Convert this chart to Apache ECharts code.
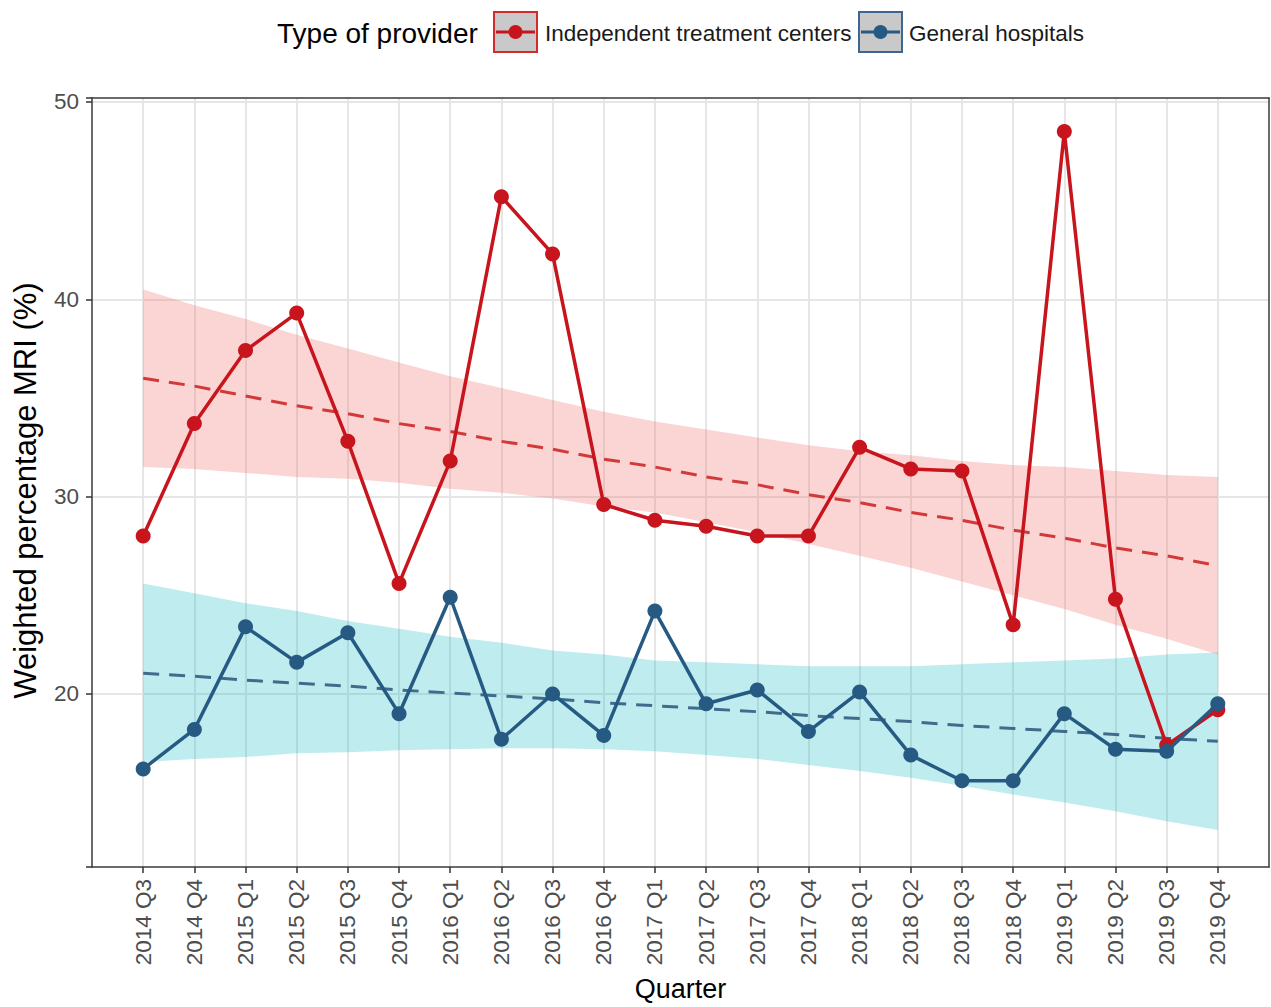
<!DOCTYPE html>
<html>
<head>
<meta charset="utf-8">
<title>Weighted percentage MRI by type of provider</title>
<script src="https://cdn.jsdelivr.net/npm/echarts@6/dist/echarts.min.js"></script>
<style>
  html, body { margin: 0; padding: 0; background: #ffffff; }
  #chart { width: 1271px; height: 1007px; }
</style>
</head>
<body>
<div id="chart"></div>
<script>
// Quarters on the x axis
const quarters = ['2014 Q3', '2014 Q4', '2015 Q1', '2015 Q2', '2015 Q3', '2015 Q4',
  '2016 Q1', '2016 Q2', '2016 Q3', '2016 Q4', '2017 Q1', '2017 Q2', '2017 Q3', '2017 Q4',
  '2018 Q1', '2018 Q2', '2018 Q3', '2018 Q4', '2019 Q1', '2019 Q2', '2019 Q3', '2019 Q4'];

// Observed weighted percentage MRI (%)
const independent = [28.0, 33.7, 37.4, 39.3, 32.8, 25.6, 31.8, 45.2, 42.3, 29.6, 28.8,
  28.5, 28.0, 28.0, 32.5, 31.4, 31.3, 23.5, 48.5, 24.8, 17.4, 19.2];
const general = [16.2, 18.2, 23.4, 21.6, 23.1, 19.0, 24.9, 17.7, 20.0, 17.9, 24.2,
  19.5, 20.2, 18.1, 20.1, 16.9, 15.6, 15.6, 19.0, 17.2, 17.1, 19.5];

// Linear trend and its confidence band, per quarter
const independentFit = [36.0, 35.6, 35.1, 34.6, 34.2, 33.7, 33.3, 32.8, 32.4, 31.9, 31.5,
  31.0, 30.6, 30.1, 29.7, 29.2, 28.8, 28.3, 27.9, 27.4, 27.0, 26.5];
const independentUpper = [40.5, 39.7, 39.0, 38.2, 37.5, 36.8, 36.1, 35.5, 34.9, 34.3, 33.8,
  33.4, 33.0, 32.6, 32.3, 32.1, 31.8, 31.6, 31.5, 31.3, 31.1, 31.0];
const independentLower = [31.5, 31.4, 31.2, 31.0, 30.9, 30.7, 30.4, 30.2, 29.9, 29.5, 29.2,
  28.7, 28.2, 27.6, 27.0, 26.4, 25.7, 25.0, 24.3, 23.5, 22.8, 22.0];
const generalFit = [21.05, 20.9, 20.7, 20.55, 20.4, 20.2, 20.05, 19.9, 19.75, 19.55, 19.4,
  19.25, 19.1, 18.9, 18.75, 18.6, 18.4, 18.25, 18.1, 17.95, 17.75, 17.6];
const generalUpper = [25.6, 25.1, 24.6, 24.2, 23.7, 23.3, 22.9, 22.6, 22.2, 22.0, 21.7,
  21.6, 21.5, 21.4, 21.4, 21.4, 21.5, 21.6, 21.7, 21.8, 22.0, 22.1];
const generalLower = [16.55, 16.7, 16.8, 17.0, 17.05, 17.15, 17.2, 17.25, 17.25, 17.2, 17.1,
  16.9, 16.7, 16.4, 16.1, 15.75, 15.35, 14.9, 14.5, 14.05, 13.55, 13.1];

const yTicks = [20, 30, 40, 50];

const RED = '#c8141c';
const BLUE = '#265a83';
const FONT = '"Liberation Sans", Arial, Helvetica, sans-serif';

const pairs = (arr) => arr.map((v, i) => [i, v]);

const chart = echarts.init(document.getElementById('chart'), null, { renderer: 'svg' });

// One polygon per band: upper edge left to right, then lower edge back
function bandSeries(name, lo, hi, fill) {
  return {
    name: name, type: 'custom', silent: true, z: 1,
    data: [[0, lo[0], hi[0]]],
    encode: { x: 0, y: [1, 2] },
    renderItem: function (params, api) {
      const pts = [];
      for (let i = 0; i < hi.length; i++) pts.push(api.coord([i, hi[i]]));
      for (let i = lo.length - 1; i >= 0; i--) pts.push(api.coord([i, lo[i]]));
      return { type: 'polygon', shape: { points: pts }, style: { fill: fill, stroke: 'none' } };
    }
  };
}

const option = {
  animation: false,
  backgroundColor: '#ffffff',
  textStyle: { fontFamily: FONT },
  grid: {
    left: 92, right: 2, top: 98, bottom: 140,
    show: false
  },
  xAxis: [
    {
      type: 'value', min: -1, max: 22, interval: 1,
      name: 'Quarter', nameLocation: 'middle', nameGap: 108,
      nameTextStyle: { fontSize: 27, color: '#000000', fontFamily: FONT },
      axisLine: { show: true, onZero: false, lineStyle: { color: '#3a3a3a', width: 1.5 } },
      axisTick: { show: true, length: 6, lineStyle: { color: '#333333', width: 1.5 } },
      axisLabel: {
        rotate: 90, margin: 12, fontSize: 22.5, color: '#4d4d4d', fontFamily: FONT,
        showMinLabel: false, showMaxLabel: false,
        formatter: (v) => (quarters[v] !== undefined ? quarters[v] : '')
      },
      splitLine: { show: true, showMinLine: false, showMaxLine: false, lineStyle: { color: '#e6e6e6', width: 2 } }
    },
    {
      // top edge of the panel frame
      type: 'value', position: 'top', min: -1, max: 22, interval: 1,
      axisLine: { show: true, onZero: false, lineStyle: { color: '#3a3a3a', width: 1.5 } },
      axisTick: { show: false }, axisLabel: { show: false }, splitLine: { show: false }
    }
  ],
  yAxis: [
    {
      type: 'value', min: 11.23, max: 50.2, splitNumber: 4,
      name: 'Weighted percentage MRI (%)', nameLocation: 'middle', nameGap: 51,
      nameTextStyle: { fontSize: 31, color: '#000000', fontFamily: FONT, padding: [0, 0, 0, -16] },
      axisLine: { show: true, onZero: false, lineStyle: { color: '#3a3a3a', width: 1.5 } },
      axisTick: { show: true, length: 6, lineStyle: { color: '#333333', width: 1.5 } },
      axisLabel: {
        margin: 13, fontSize: 22.5, color: '#4d4d4d', fontFamily: FONT,
        formatter: (v) => (yTicks.indexOf(Math.round(v * 1000) / 1000) >= 0 ? String(v) : '')
      },
      splitLine: { show: true, showMinLine: false, showMaxLine: false, lineStyle: { color: '#e6e6e6', width: 2 } }
    },
    {
      // right edge of the panel frame
      type: 'value', position: 'right', min: 11.23, max: 50.2, splitNumber: 4,
      axisLine: { show: true, onZero: false, lineStyle: { color: '#3a3a3a', width: 1.5 } },
      axisTick: { show: false }, axisLabel: { show: false }, splitLine: { show: false }
    }
  ],
  series: [
    bandSeries('Independent band', independentLower, independentUpper, 'rgba(240,100,100,0.28)'),
    bandSeries('General band', generalLower, generalUpper, 'rgba(0,178,186,0.25)'),
    {
      name: 'Independent trend', type: 'line', data: pairs(independentFit), symbol: 'none',
      lineStyle: { color: '#d23a3a', width: 3, type: [16, 10] }, silent: true, z: 2
    },
    {
      name: 'General trend', type: 'line', data: pairs(generalFit), symbol: 'none',
      lineStyle: { color: '#3f6c8c', width: 3, type: [16, 10] }, silent: true, z: 2
    },
    {
      name: 'Independent treatment centers', type: 'line', data: pairs(independent),
      symbol: 'circle', symbolSize: 15, itemStyle: { color: RED },
      lineStyle: { color: RED, width: 3.5 }, z: 3
    },
    {
      name: 'General hospitals', type: 'line', data: pairs(general),
      symbol: 'circle', symbolSize: 15, itemStyle: { color: BLUE },
      lineStyle: { color: BLUE, width: 3.5 }, z: 4
    }
  ],
  graphic: [
    {
      type: 'text', z: 10,
      style: { text: 'Type of provider', x: 277, y: 33, verticalAlign: 'middle', font: '28px ' + FONT, fill: '#000000' }
    },
    {
      type: 'rect', z: 10, shape: { x: 494, y: 12, width: 43, height: 40 },
      style: { fill: '#c9c9c9', stroke: '#d42a2a', lineWidth: 2 }
    },
    {
      type: 'line', z: 11, shape: { x1: 496, y1: 32, x2: 535, y2: 32 },
      style: { stroke: RED, lineWidth: 3 }
    },
    {
      type: 'circle', z: 12, shape: { cx: 515.5, cy: 32, r: 7 },
      style: { fill: RED }
    },
    {
      type: 'text', z: 10,
      style: { text: 'Independent treatment centers', x: 545, y: 33, verticalAlign: 'middle', font: '22.5px ' + FONT, fill: '#1a1a1a' }
    },
    {
      type: 'rect', z: 10, shape: { x: 859, y: 12, width: 43, height: 40 },
      style: { fill: '#c9c9c9', stroke: '#3d6690', lineWidth: 2 }
    },
    {
      type: 'line', z: 11, shape: { x1: 861, y1: 32, x2: 900, y2: 32 },
      style: { stroke: BLUE, lineWidth: 3 }
    },
    {
      type: 'circle', z: 12, shape: { cx: 880.5, cy: 32, r: 7 },
      style: { fill: BLUE }
    },
    {
      type: 'text', z: 10,
      style: { text: 'General hospitals', x: 909, y: 33, verticalAlign: 'middle', font: '22.5px ' + FONT, fill: '#1a1a1a' }
    }
  ]
};

chart.setOption(option);
</script>
</body>
</html>
